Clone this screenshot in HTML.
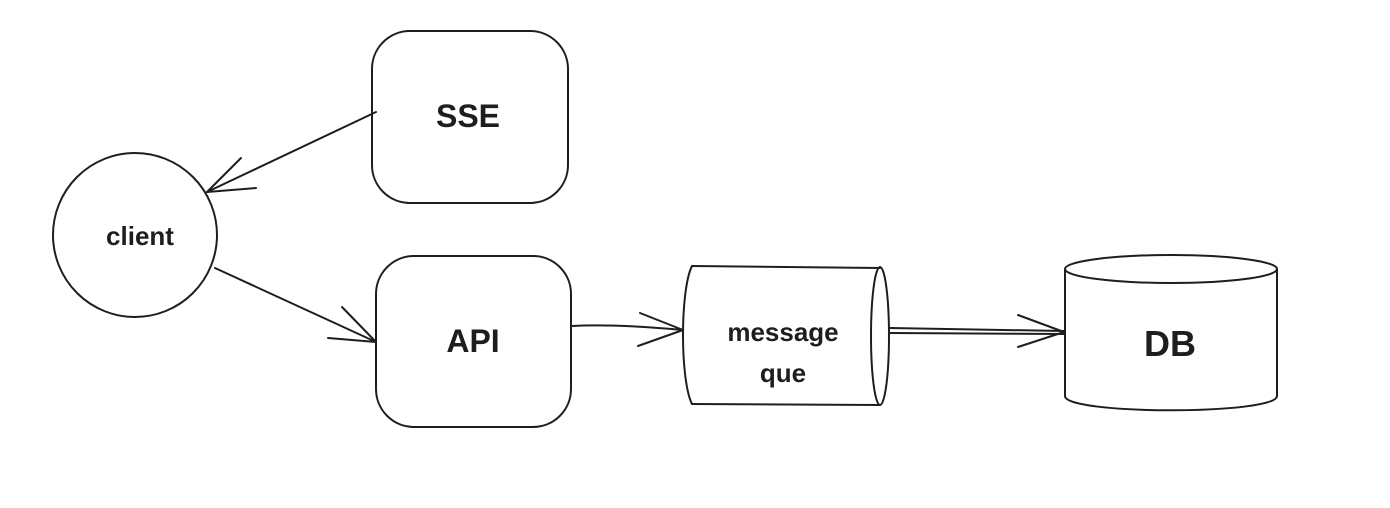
<!DOCTYPE html>
<html><head><meta charset="utf-8"><style>
html,body{margin:0;padding:0;background:#fff;}
svg{display:block;}
text{font-family:"Liberation Sans",sans-serif;fill:#1e1e1e;font-weight:bold;}
</style></head><body>
<svg width="1390" height="508" viewBox="0 0 1390 508" xmlns="http://www.w3.org/2000/svg">
<g fill="none" stroke="#1e1e1e" stroke-width="2" stroke-linecap="round" stroke-linejoin="round">
<!-- SSE -->
<rect x="372" y="31" width="196" height="172" rx="38"/>
<!-- client -->
<circle cx="135" cy="235" r="82"/>
<!-- API -->
<rect x="376" y="256" width="195" height="171" rx="38"/>
<!-- message que -->
<path d="M692 266 L880 268 M692 404 L880 405"/>
<path d="M692 266 C680 290 680 380 692 404"/>
<ellipse cx="880" cy="336" rx="9" ry="69"/>
<!-- DB -->
<ellipse cx="1171" cy="269" rx="106" ry="14"/>
<path d="M1065 269 L1065 396 C1065 415 1277 415 1277 396 L1277 269"/>
<!-- arrows -->
<path d="M376 112 L207 192"/>
<path d="M207 192 L256 188 M207 192 L241 158"/>
<path d="M215 268 L376 342"/>
<path d="M376 342 L328 338 M376 342 L342 307"/>
<path d="M572 326 C610 324 650 327 683 330"/>
<path d="M683 330 L638 346 M683 330 L640 313"/>
<path d="M890 328 L1064 331 M890 333 L1064 334"/>
<path d="M1064 332 L1018 347 M1064 332 L1018 315"/>
</g>
<text x="468" y="127" font-size="32" text-anchor="middle">SSE</text>
<text x="140" y="245" font-size="26" text-anchor="middle" font-weight="normal">client</text>
<text x="473" y="352" font-size="32" text-anchor="middle">API</text>
<text x="783" y="341" font-size="26" text-anchor="middle">message</text>
<text x="783" y="382" font-size="26" text-anchor="middle">que</text>
<text x="1170" y="356" font-size="36" text-anchor="middle">DB</text>
</svg>
</body></html>
